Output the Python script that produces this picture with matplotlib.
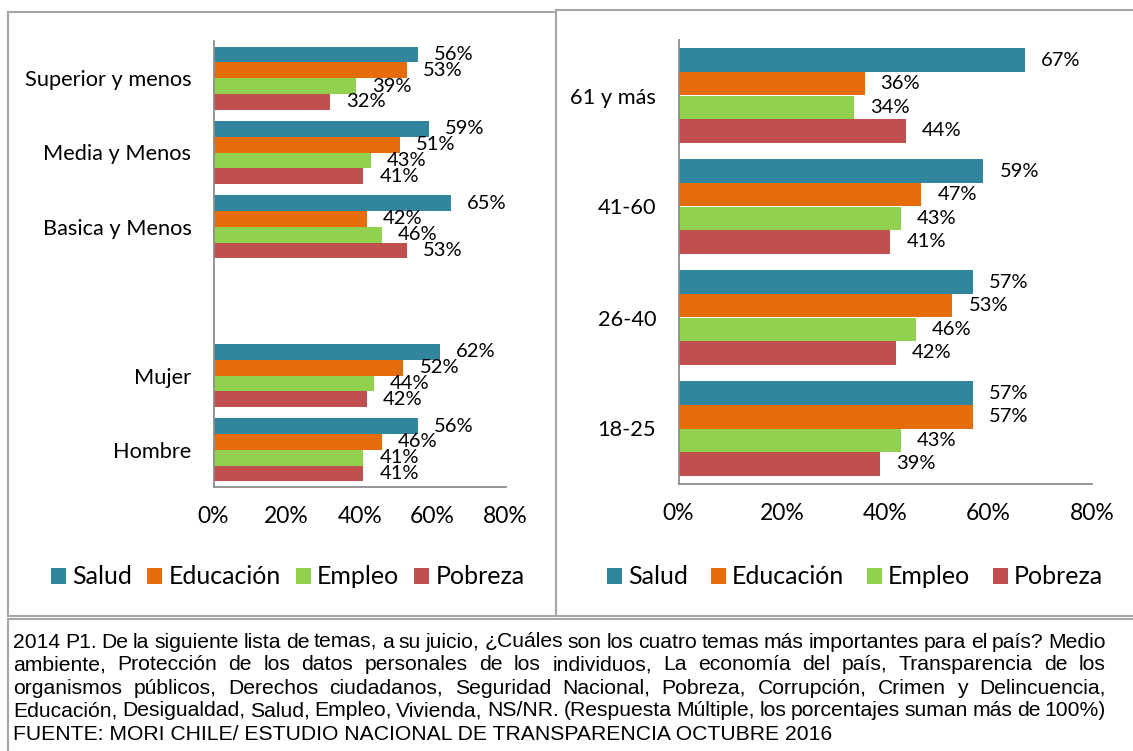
import matplotlib
matplotlib.use('Agg')
import matplotlib.pyplot as plt
from matplotlib.patches import Rectangle
import numpy as np

plt.rcParams['font.family'] = ['Lato', 'DejaVu Sans']

# datos
series = ['Salud', 'Educación', 'Empleo', 'Pobreza']
colores = ['#31859C', '#E46C0A', '#92D050', '#C0504D']

# panel izquierdo (nivel educacional / sexo), la categoria vacia es el hueco
cat_izq = ['Superior y menos', 'Media y Menos', 'Basica y Menos', '', 'Mujer', 'Hombre']
salud_izq = [56, 59, 65, np.nan, 62, 56]
educ_izq = [53, 51, 42, np.nan, 52, 46]
empleo_izq = [39, 43, 46, np.nan, 44, 41]
pobreza_izq = [32, 41, 53, np.nan, 42, 41]

# panel derecho (edad)
cat_der = ['61 y más', '41-60', '26-40', '18-25']
salud_der = [67, 59, 57, 57]
educ_der = [36, 47, 53, 57]
empleo_der = [34, 43, 46, 43]
pobreza_der = [44, 41, 42, 39]

ticks_x = [0, 20, 40, 60, 80]

nota = [
    "2014 P1. De la siguiente lista de temas, a su juicio, ¿Cuáles son los cuatro temas más importantes para el país? Medio",
    "ambiente, Protección de los datos personales de los individuos, La economía del país, Transparencia de los",
    "organismos públicos, Derechos ciudadanos, Seguridad Nacional, Pobreza, Corrupción, Crimen y Delincuencia,",
    "Educación, Desigualdad, Salud, Empleo, Vivienda, NS/NR. (Respuesta Múltiple, los porcentajes suman más de 100%)",
]
fuente = "FUENTE: MORI CHILE/ ESTUDIO NACIONAL DE TRANSPARENCIA OCTUBRE 2016"

W, H = 1133, 751
fig = plt.figure(figsize=(W / 100, H / 100), dpi=100)


def fx(px):
    return px / W


def fy(py):
    return 1 - py / H


def dibujar(ax, cats, valores):
    y = np.arange(len(cats))
    h = 0.212
    for i, (nombre, vals, col) in enumerate(zip(series, valores, colores)):
        off = (i - 1.5) * h
        v = np.array(vals, dtype=float)
        ax.barh(y + off, v, height=h, color=col, label=nombre, linewidth=0)
        for yy, vv in zip(y + off, v):
            if np.isnan(vv):
                continue
            ax.annotate(f'{vv:.0f}%', (vv, yy), xytext=(11.5, 0),
                        textcoords='offset points', va='center', ha='left',
                        fontsize=14.5, color='black')
    ax.set_ylim(len(cats) - 0.5, -0.5)
    ax.set_yticks(y)
    ax.set_yticklabels(cats, fontsize=15.7)
    ax.set_xlim(0, 80)
    ax.set_xticks(ticks_x)
    ax.set_xticklabels([f'{t}%' for t in ticks_x], fontsize=16.5)
    ax.tick_params(axis='y', length=0, pad=16)
    ax.tick_params(axis='x', length=0, pad=14)
    for s in ['top', 'right']:
        ax.spines[s].set_visible(False)
    for s in ['left', 'bottom']:
        ax.spines[s].set_color('#8c8c8c')
        ax.spines[s].set_linewidth(1.3)
    ax.patch.set_alpha(0)


ax1 = fig.add_axes([fx(213.6), fy(487), fx(505.7 - 213.6), 446 / H])
dibujar(ax1, cat_izq, [salud_izq, educ_izq, empleo_izq, pobreza_izq])

ax2 = fig.add_axes([fx(678.5), fy(484), fx(1092 - 678.5), 444 / H])
dibujar(ax2, cat_der, [salud_der, educ_der, empleo_der, pobreza_der])

h1, l1 = ax1.get_legend_handles_labels()
fig.legend(h1, l1, loc='center', bbox_to_anchor=(fx(288), fy(577)), ncol=4,
           frameon=False, fontsize=18, handlelength=0.6, handleheight=0.6,
           handletextpad=0.25, columnspacing=0.6, borderpad=0, borderaxespad=0)
h2, l2 = ax2.get_legend_handles_labels()
fig.legend(h2, l2, loc='center', bbox_to_anchor=(fx(855), fy(577)), ncol=4,
           frameon=False, fontsize=18, handlelength=0.6, handleheight=0.6,
           handletextpad=0.25, columnspacing=0.9, borderpad=0, borderaxespad=0)

# marcos
gris = '#a6a6a6'
fig.patches.append(Rectangle((fx(8), fy(616)), fx(556 - 8), (616 - 12) / H,
                             transform=fig.transFigure, fill=False, edgecolor=gris, lw=1.5))
fig.patches.append(Rectangle((fx(556), fy(616)), fx(1140 - 556), (616 - 10) / H,
                             transform=fig.transFigure, fill=False, edgecolor=gris, lw=1.5))
fig.patches.append(Rectangle((fx(8), fy(760)), fx(1140 - 8), (760 - 619) / H,
                             transform=fig.transFigure, fill=False, edgecolor=gris, lw=1.5))

# nota al pie, justificada
renderer = fig.canvas.get_renderer()
fam = ['Liberation Sans', 'DejaVu Sans']


def ancho(txt, fs):
    t = fig.text(0, 0, txt, fontsize=fs, family=fam)
    w = t.get_window_extent(renderer).width
    t.remove()
    return w


x0, x1 = 13, 1106
disp = x1 - x0
# tamaño segun el ancho de la linea FUENTE (termina cerca de x=833)
fs = 15.0 * 820 / ancho(fuente, 15.0)

bases = [647.5, 670.5, 693.5, 716.5, 739.5]
for linea, b in zip(nota, bases):
    pals = linea.split()
    anchos = [ancho(p, fs) for p in pals]
    gap = (disp - sum(anchos)) / (len(pals) - 1)
    x = x0
    for p, w in zip(pals, anchos):
        fig.text(fx(x), fy(b), p, fontsize=fs, family=fam, va='baseline', ha='left')
        x += w + gap
fig.text(fx(x0), fy(bases[4]), fuente, fontsize=fs, family=fam, va='baseline', ha='left')

fig.savefig('out.png', dpi=100, facecolor='white')
